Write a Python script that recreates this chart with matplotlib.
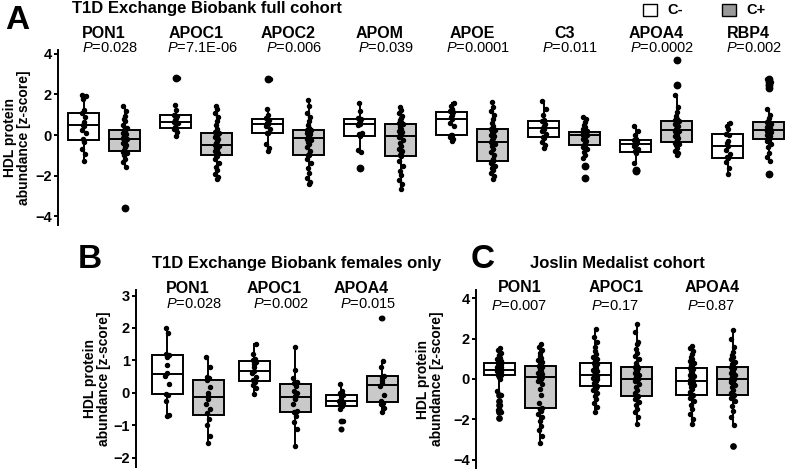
import numpy as np
import matplotlib
matplotlib.use('Agg')
import matplotlib.pyplot as plt
from matplotlib.patches import Rectangle
from matplotlib import transforms

plt.rcParams['font.family'] = 'Liberation Sans'
plt.rcParams['mathtext.fontset'] = 'custom'
plt.rcParams['mathtext.it'] = 'Liberation Sans:italic'
plt.rcParams['mathtext.rm'] = 'Liberation Sans'

# ---- Panel A: T1D Exchange Biobank full cohort (z-scores) ----
a_genes = ['PON1', 'APOC1', 'APOC2', 'APOM', 'APOE', 'C3', 'APOA4', 'RBP4']
a_pvals = ['0.028', '7.1E-06', '0.006', '0.039', '0.0001', '0.011', '0.0002', '0.002']

a_pon1_neg = [-1.3, -0.95, -0.7, -0.35, -0.2, 0.08, 0.25, 0.45, 0.5, 0.65, 0.9, 1.07, 1.22, 1.8, 1.9, 1.98]
a_pon1_pos = [-3.6, -1.55, -1.35, -1.2, -1.0, -0.9, -0.85, -0.82, -0.75, -0.6, -0.5, -0.4, -0.3, -0.25, -0.2,
              -0.15, -0.1, -0.05, 0.0, 0.05, 0.1, 0.2, 0.25, 0.35, 0.5, 0.7, 0.8, 0.95, 1.2, 1.42]
a_apoc1_neg = [-0.03, 0.15, 0.3, 0.35, 0.38, 0.6, 0.65, 0.66, 0.75, 0.85, 0.95, 1.0, 1.25, 1.48, 2.82]
a_apoc1_pos = [-2.18, -2.05, -1.9, -1.7, -1.55, -1.4, -1.2, -1.05, -0.98, -0.95, -0.9, -0.8, -0.7, -0.62, -0.55, -0.5,
               -0.48, -0.4, -0.3, -0.2, -0.1, -0.05, 0.0, 0.1, 0.15, 0.3, 0.5, 0.7, 0.9, 1.1, 1.3, 1.43]
a_apoc2_neg = [-0.79, -0.65, -0.45, 0.1, 0.12, 0.3, 0.45, 0.54, 0.6, 0.65, 0.75, 0.82, 1.0, 1.28, 2.74]
a_apoc2_pos = [-2.43, -2.3, -2.1, -1.85, -1.6, -1.4, -1.2, -1.0, -0.98, -0.95, -0.8, -0.6, -0.45, -0.35, -0.25, -0.18,
               -0.14, -0.1, 0.0, 0.05, 0.1, 0.15, 0.2, 0.24, 0.26, 0.35, 0.5, 0.7, 0.9, 1.1, 1.45, 1.72]
a_apom_neg = [-1.62, -0.85, -0.75, -0.05, 0.05, 0.1, 0.52, 0.55, 0.6, 0.7, 0.8, 0.85, 1.2, 1.59]
a_apom_pos = [-2.66, -2.4, -2.2, -1.95, -1.75, -1.5, -1.3, -1.05, -1.0, -0.9, -0.8, -0.7, -0.55, -0.4, -0.25, -0.08,
              -0.02, 0.05, 0.1, 0.15, 0.2, 0.3, 0.4, 0.55, 0.58, 0.65, 0.75, 0.85, 0.95, 1.1, 1.25, 1.36]
a_apoe_neg = [-0.28, -0.2, -0.1, -0.02, 0.02, 0.45, 0.6, 0.79, 0.9, 1.0, 1.12, 1.18, 1.3, 1.45, 1.56]
a_apoe_pos = [-2.18, -2.0, -1.85, -1.7, -1.6, -1.5, -1.4, -1.3, -1.27, -1.2, -1.0, -0.85, -0.7, -0.55, -0.45, -0.36,
              -0.32, -0.25, -0.15, -0.05, 0.0, 0.1, 0.2, 0.27, 0.3, 0.45, 0.6, 0.8, 1.0, 1.2, 1.4, 1.61]
a_c3_neg = [-0.62, -0.5, -0.35, -0.15, -0.08, 0.05, 0.2, 0.3, 0.36, 0.45, 0.55, 0.68, 0.75, 1.0, 1.3, 1.67]
a_c3_pos = [-2.1, -1.52, -1.11, -1.0, -0.85, -0.7, -0.6, -0.5, -0.48, -0.4, -0.3, -0.2, -0.1, -0.05, -0.02, 0.02,
            0.05, 0.08, 0.1, 0.12, 0.14, 0.15, 0.17, 0.2, 0.3, 0.4, 0.5, 0.65, 0.78, 0.9]
a_apoa4_neg = [-1.78, -1.72, -1.4, -0.9, -0.8, -0.7, -0.55, -0.45, -0.4, -0.35, -0.3, -0.25, -0.2, 0.0, 0.2, 0.44]
a_apoa4_pos = [-0.98, -0.9, -0.8, -0.65, -0.5, -0.42, -0.38, -0.34, -0.32, -0.25, -0.15, -0.05, 0.0, 0.1, 0.18, 0.22,
               0.24, 0.3, 0.38, 0.45, 0.55, 0.62, 0.68, 0.7, 0.74, 0.8, 0.95, 1.15, 1.4, 1.97, 2.49, 3.7]
a_rbp4_neg = [-1.93, -1.6, -1.35, -1.15, -1.08, -0.95, -0.75, -0.54, -0.4, -0.3, 0.0, 0.06, 0.3, 0.45, 0.57]
a_rbp4_pos = [-1.9, -1.28, -1.1, -0.9, -0.6, -0.45, -0.3, -0.22, -0.2, -0.15, -0.05, 0.0, 0.05, 0.1, 0.15, 0.2,
              0.24, 0.28, 0.3, 0.35, 0.4, 0.45, 0.5, 0.55, 0.62, 0.66, 0.7, 0.85, 1.0, 1.3, 2.3, 2.46, 2.6, 2.74]

# ---- Panel B: T1D Exchange Biobank females only ----
b_genes = ['PON1', 'APOC1', 'APOA4']
b_pvals = ['0.028', '0.002', '0.015']

b_pon1_neg = [-0.71, -0.68, -0.25, -0.05, -0.02, 0.27, 0.52, 0.62, 0.85, 1.1, 1.18, 1.2, 1.85, 2.01]
b_pon1_pos = [-1.55, -1.32, -1.0, -0.8, -0.62, -0.5, -0.35, -0.2, -0.08, 0.0, 0.18, 0.4, 0.45, 0.5, 0.8, 1.1]
b_apoc1_neg = [-0.04, 0.15, 0.25, 0.35, 0.4, 0.5, 0.6, 0.69, 0.8, 0.9, 0.95, 1.02, 1.05, 1.2, 1.5]
b_apoc1_pos = [-1.63, -1.1, -0.9, -0.7, -0.6, -0.55, -0.35, -0.2, -0.15, -0.08, 0.0, 0.05, 0.2, 0.3, 0.35, 0.45,
               0.7, 1.43]
b_apoa4_neg = [-1.12, -0.87, -0.5, -0.39, -0.38, -0.3, -0.26, -0.22, -0.2, -0.1, -0.07, 0.0, 0.05, 0.27]
b_apoa4_pos = [-0.6, -0.45, -0.35, -0.3, -0.25, -0.05, 0.2, 0.3, 0.4, 0.5, 0.52, 0.8, 0.98, 2.32]

# ---- Panel C: Joslin Medalist cohort ----
c_genes = ['PON1', 'APOC1', 'APOA4']
c_pvals = ['0.007', '0.17', '0.87']

c_pon1_neg = [-1.93, -1.65, -1.52, -1.27, -1.1, -0.78, -0.61, 0.02, 0.1, 0.17, 0.19, 0.22, 0.26, 0.3, 0.34, 0.38,
              0.40, 0.42, 0.44, 0.45, 0.47, 0.52, 0.55, 0.58, 0.61, 0.64, 0.68, 0.72, 0.75, 0.77, 0.8, 0.85,
              0.9, 0.98, 1.05, 1.12, 1.2, 1.3, 1.42, 1.54]
c_pon1_pos = [-3.14, -2.8, -2.5, -2.3, -2.1, -1.9, -1.75, -1.6, -1.5, -1.46, -1.43, -1.2, -0.8, -0.5, -0.25, -0.1,
              0.0, 0.05, 0.08, 0.09, 0.11, 0.15, 0.2, 0.25, 0.3, 0.38, 0.45, 0.52, 0.6, 0.64, 0.68, 0.75,
              0.85, 0.95, 1.05, 1.15, 1.3, 1.45, 1.6, 1.75]
c_apoc1_neg = [-1.65, -1.4, -1.2, -1.0, -0.85, -0.7, -0.55, -0.45, -0.4, -0.37, -0.35, -0.2, -0.1, -0.05, 0.0, 0.05,
               0.1, 0.13, 0.16, 0.17, 0.19, 0.25, 0.3, 0.4, 0.45, 0.55, 0.62, 0.7, 0.75, 0.78, 0.8, 0.9,
               1.0, 1.1, 1.25, 1.4, 1.6, 1.85, 2.1, 2.45]
c_apoc1_pos = [-2.21, -1.9, -1.65, -1.5, -1.3, -1.15, -1.0, -0.9, -0.88, -0.87, -0.85, -0.7, -0.55, -0.4, -0.25, -0.1,
               -0.05, -0.02, -0.01, 0.0, 0.0, 0.03, 0.1, 0.2, 0.3, 0.38, 0.45, 0.5, 0.55, 0.58, 0.62, 0.8,
               1.0, 1.15, 1.3, 1.5, 1.75, 1.85, 2.3, 2.74]
c_apoa4_neg = [-2.23, -2.0, -1.75, -1.5, -1.3, -1.1, -0.95, -0.85, -0.82, -0.8, -0.77, -0.65, -0.5, -0.4, -0.3, -0.2,
               -0.15, -0.12, -0.1, -0.09, -0.07, 0.0, 0.1, 0.15, 0.2, 0.3, 0.38, 0.45, 0.5, 0.53, 0.57, 0.7,
               0.8, 0.9, 1.0, 1.1, 1.25, 1.4, 1.55, 1.65]
c_apoa4_pos = [-3.29, -2.26, -1.9, -1.6, -1.35, -1.1, -0.95, -0.85, -0.83, -0.82, -0.8, -0.7, -0.55, -0.4, -0.3, -0.15,
               -0.1, -0.05, -0.02, 0.0, 0.0, 0.05, 0.1, 0.2, 0.28, 0.35, 0.42, 0.5, 0.55, 0.58, 0.62, 0.75,
               0.85, 1.0, 1.1, 1.2, 1.35, 1.6, 2.0, 2.41]

W, H = 785, 469
fig = plt.figure(figsize=(W / 100, H / 100), dpi=100)

NEG_FILL = 'white'
POS_FILL = '#c9c9c9'
LW = 1.4
JIT = np.array([0.0, 1.5, -1.5, 0.8, -0.8, 2.0, -2.0, 0.4, -0.4])  # px


def px_axes(left, top, right, bottom):
    return fig.add_axes([left / W, 1 - bottom / H, (right - left) / W, (bottom - top) / H])


def draw_panel(ax, negs, poss, genes, pvals, ppu, xlim, ylim, yticks, gene_y, p_y, p_dx, flier_ms):
    off = 20.5 / ppu
    width = 31 / ppu
    data, pos, fills = [], [], []
    for i in range(len(genes)):
        data += [negs[i], poss[i]]
        pos += [i - off, i + off]
        fills += [NEG_FILL, POS_FILL]
    bp = ax.boxplot(data, positions=pos, widths=width, patch_artist=True, showcaps=False,
                    whis=1.5, manage_ticks=False,
                    boxprops=dict(edgecolor='black', linewidth=LW),
                    medianprops=dict(color='black', linewidth=LW),
                    whiskerprops=dict(color='black', linewidth=LW),
                    flierprops=dict(marker='o', markerfacecolor='black', markeredgecolor='black',
                                    markersize=flier_ms))
    for box, fc in zip(bp['boxes'], fills):
        box.set_facecolor(fc)
        box.set_zorder(2)
    for x, vals in zip(pos, data):
        vals = np.asarray(vals)
        jit = np.resize(JIT, len(vals)) / ppu
        ax.plot(x + jit, vals, 'o', color='black', ms=2.9, zorder=3, linestyle='none')

    ax.set_xlim(*xlim)
    ax.set_ylim(*ylim)
    ax.set_yticks(yticks)
    ax.set_xticks([])
    for s in ['top', 'right', 'bottom']:
        ax.spines[s].set_visible(False)
    ax.spines['left'].set_linewidth(LW)
    ax.tick_params(axis='y', direction='out', length=3, width=LW, labelsize=10.5, pad=1.5)
    for t in ax.get_yticklabels():
        t.set_fontweight('bold')
    ax.patch.set_alpha(0)

    trans = transforms.blended_transform_factory(ax.transData, fig.transFigure)
    for i, (g, p) in enumerate(zip(genes, pvals)):
        ax.text(i, 1 - gene_y / H, g, transform=trans, ha='center', va='center',
                fontsize=11.5, fontweight='bold', clip_on=False)
        ax.text(i + p_dx / ppu, 1 - p_y / H, r'$\it{P}$=' + p, transform=trans, ha='center',
                va='center', fontsize=10.5, clip_on=False)


# Panel A
axA = px_axes(58, 50, 785, 225)
draw_panel(axA,
           [a_pon1_neg, a_apoc1_neg, a_apoc2_neg, a_apom_neg, a_apoe_neg, a_c3_neg, a_apoa4_neg, a_rbp4_neg],
           [a_pon1_pos, a_apoc1_pos, a_apoc2_pos, a_apom_pos, a_apoe_pos, a_c3_pos, a_apoa4_pos, a_rbp4_pos],
           a_genes, a_pvals, ppu=92, xlim=(-0.5, 7.4), ylim=(-4.43, 4.19),
           yticks=[-4, -2, 0, 2, 4], gene_y=33, p_y=48.5, p_dx=6, flier_ms=4.6)

# Panel B
axB = px_axes(136, 290, 410, 467)
draw_panel(axB, [b_pon1_neg, b_apoc1_neg, b_apoa4_neg], [b_pon1_pos, b_apoc1_pos, b_apoa4_pos],
           b_genes, b_pvals, ppu=87, xlim=(-0.592, 2.557), ylim=(-2.28, 3.17),
           yticks=[-2, -1, 0, 1, 2, 3], gene_y=288, p_y=304.5, p_dx=7, flier_ms=3.2)

# Panel C
axC = px_axes(476, 290, 785, 468)
draw_panel(axC, [c_pon1_neg, c_apoc1_neg, c_apoa4_neg], [c_pon1_pos, c_apoc1_pos, c_apoa4_pos],
           c_genes, c_pvals, ppu=96, xlim=(-0.458, 2.76), ylim=(-4.4, 4.4),
           yticks=[-4, -2, 0, 2, 4], gene_y=287.5, p_y=306, p_dx=-1, flier_ms=3.8)

ylab = 'HDL protein\nabundance [z-score]'
for x, axy in [(17, 137.5), (97, 378.5), (430, 379)]:
    fig.text(x / W, 1 - axy / H, ylab, rotation=90, ha='center', va='center',
             multialignment='center', fontsize=10, fontweight='bold', linespacing=1.05)

# panel letters and titles
for letter, x, y in [('A', 5, 29), ('B', 78, 268), ('C', 471, 268)]:
    fig.text(x / W, 1 - y / H, letter, ha='left', va='baseline', fontsize=24, fontweight='bold')
for title, x, y in [('T1D Exchange Biobank full cohort', 207, 8),
                    ('T1D Exchange Biobank females only', 297, 263),
                    ('Joslin Medalist cohort', 617, 263)]:
    fig.text(x / W, 1 - y / H, title, ha='center', va='center', fontsize=12, fontweight='bold')

# legend
for label, fc, x in [('C-', 'white', 643), ('C+', '#999999', 722)]:
    fig.add_artist(Rectangle((x / W, 1 - 16.5 / H), 14 / W, 12.5 / H, transform=fig.transFigure,
                             facecolor=fc, edgecolor='black', linewidth=1.0))
    fig.text((x + 24) / W, 1 - 10 / H, label, ha='left', va='center', fontsize=10.5, fontweight='bold')

fig.savefig('out.png', dpi=100)
